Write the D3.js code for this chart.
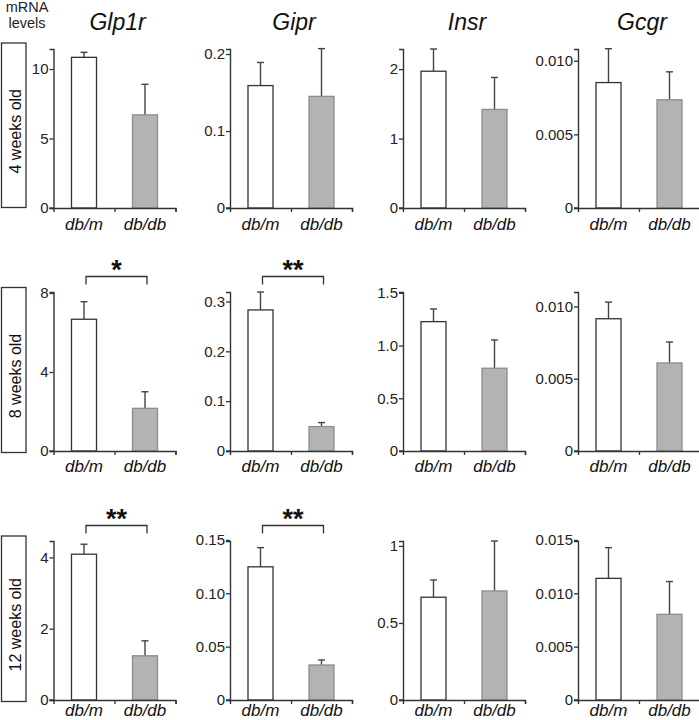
<!DOCTYPE html>
<html><head><meta charset="utf-8">
<script src="https://cdn.jsdelivr.net/npm/d3@7"></script>
<style>
html,body{margin:0;padding:0;background:#fff;}
svg{display:block;font-family:Arial,"Liberation Sans",sans-serif;}
</style></head>
<body><svg id="c" width="699" height="720"></svg>
<script>
// ---- data ----
const genes = ["Glp1r","Gipr","Insr","Gcgr"];
const ages = ["4 weeks old","8 weeks old","12 weeks old"];
const groups = ["db/m","db/db"];
// means [gene][group] per age
const means4w  = [[10.84,6.70],[0.159,0.145],[1.97,1.42],[0.00852,0.00735]];
const means8w  = [[6.67,2.16],[0.283,0.049],[1.227,0.785],[0.00915,0.00609]];
const means12w = [[4.09,1.24],[0.1248,0.0328],[0.667,0.708],[0.0114,0.00803]];
// SEM [gene][group] per age
const sem4w  = [[0.36,2.20],[0.030,0.062],[0.32,0.46],[0.0023,0.0019]];
const sem8w  = [[0.89,0.84],[0.036,0.008],[0.12,0.268],[0.00115,0.00145]];
const sem12w = [[0.28,0.42],[0.018,0.0047],[0.112,0.324],[0.00288,0.00307]];
// axis maxima [gene] per age
const axisMax = [[11.44,0.2065,2.29,0.0108],[8.05,0.319,1.508,0.011],[4.46,0.149,1.032,0.0149]];
// tick values and labels [age][gene]
const tickVals = [
  [[0,5,10],[0,0.1,0.2],[0,1,2],[0,0.005,0.010]],
  [[0,4,8],[0,0.1,0.2,0.3],[0,0.5,1.0,1.5],[0,0.005,0.010]],
  [[0,2,4],[0,0.05,0.10,0.15],[0,0.5,1],[0,0.005,0.010,0.015]]
];
const tickLabels = [
  [["0","5","10"],["0","0.1","0.2"],["0","1","2"],["0","0.005","0.010"]],
  [["0","4","8"],["0","0.1","0.2","0.3"],["0","0.5","1.0","1.5"],["0","0.005","0.010"]],
  [["0","2","4"],["0","0.05","0.10","0.15"],["0","0.5","1"],["0","0.005","0.010","0.015"]]
];
const sigRows = [1,1,2,2];
const sigCols = [0,1,0,1];
const sigMarks = ["*","**","**","**"];

const means = [means4w, means8w, means12w];
const sems = [sem4w, sem8w, sem12w];

// ---- layout ----
const colX = [53.5, 230, 403, 578];
const panelW = 122;
const rowBottom = [208, 451, 700];
const rowTop = [49, 292, 541];
const labelOffset = [22, 21, 15.5];
const boxTop = [43, 287.5, 536];
const boxBot = [207.5, 452.5, 701.5];
const axisColor = "#333";
const svg = d3.select("#c");

// header
svg.append("text").attr("x",27).attr("y",12).attr("text-anchor","middle")
  .attr("font-size",14.5).attr("fill","#222").text("mRNA");
svg.append("text").attr("x",27).attr("y",28).attr("text-anchor","middle")
  .attr("font-size",14.5).attr("fill","#222").text("levels");

genes.forEach((g,c)=>{
  svg.append("text").attr("x",colX[c]+panelW/2+3).attr("y",30).attr("text-anchor","middle")
    .attr("font-size",23).attr("font-style","italic").attr("fill","#111").text(g);
});

const scales = {};
ages.forEach((age,r)=>{
  svg.append("rect").attr("x",1.5).attr("y",boxTop[r]).attr("width",24.5)
    .attr("height",boxBot[r]-boxTop[r]).attr("fill","#fff").attr("stroke","#333").attr("stroke-width",1.3);
  const cy = (boxTop[r]+boxBot[r])/2 + 6;
  svg.append("text").attr("transform",`translate(20.5,${cy}) rotate(-90)`)
    .attr("text-anchor","middle").attr("font-size",16).attr("fill","#111").text(age);

  genes.forEach((g,c)=>{
    const x0 = colX[c];
    const x = d3.scaleBand().domain(groups).range([x0, x0+panelW]).paddingInner(0.59).paddingOuter(0.295);
    const y = d3.scaleLinear().domain([0, axisMax[r][c]]).range([rowBottom[r], rowTop[r]]);
    scales[r+"_"+c] = {x,y};
    const gp = svg.append("g");

    groups.forEach((grp,i)=>{
      const m = means[r][c][i], s = sems[r][c][i];
      const cx = x(grp)+x.bandwidth()/2;
      gp.append("line").attr("x1",cx).attr("x2",cx).attr("y1",y(m)).attr("y2",y(m+s))
        .attr("stroke","#444").attr("stroke-width",1.4);
      gp.append("line").attr("x1",cx-3.5).attr("x2",cx+3.5).attr("y1",y(m+s)).attr("y2",y(m+s))
        .attr("stroke","#444").attr("stroke-width",1.4);
      gp.append("rect").attr("x",x(grp)).attr("width",x.bandwidth())
        .attr("y",y(m)).attr("height",y(0)-y(m))
        .attr("fill", i===0 ? "#fff" : "#b3b3b5")
        .attr("stroke", i===0 ? "#333" : "#8d8d8f").attr("stroke-width",1.3);
      gp.append("text").attr("x",cx).attr("y",rowBottom[r]+labelOffset[r]).attr("text-anchor","middle")
        .attr("font-size",17).attr("font-style","italic").attr("fill","#111").text(grp);
    });

    const ya = d3.axisLeft(y).tickValues(tickVals[r][c])
      .tickFormat((d,i)=>tickLabels[r][c][i]).tickSizeOuter(0).tickSize(4).tickPadding(1);
    const yg = gp.append("g").attr("transform",`translate(${x0},0)`).call(ya);
    yg.select(".domain").attr("stroke",axisColor).attr("stroke-width",1.4);
    yg.selectAll(".tick line").attr("stroke",axisColor).attr("stroke-width",1.3);
    yg.selectAll(".tick text").attr("font-size",15).attr("fill","#222")
      .attr("font-family","Arial, 'Liberation Sans', sans-serif");

    const xb = d3.scaleLinear().domain([0,groups.length]).range([x0, x0+panelW]);
    const xa = d3.axisBottom(xb).tickValues([1,2]).tickFormat("").tickSizeOuter(0).tickSize(4);
    const xg = gp.append("g").attr("transform",`translate(0,${rowBottom[r]})`).call(xa);
    xg.select(".domain").attr("stroke",axisColor).attr("stroke-width",1.4);
    xg.selectAll(".tick line").attr("stroke",axisColor).attr("stroke-width",1.3);
    gp.append("line").attr("x1",x0-4).attr("x2",x0).attr("y1",rowBottom[r]).attr("y2",rowBottom[r])
      .attr("stroke",axisColor).attr("stroke-width",1.3);
  });
});

// significance brackets
sigMarks.forEach((mk,k)=>{
  const r = sigRows[k], c = sigCols[k];
  const {x} = scales[r+"_"+c];
  const xa = x(groups[0])+x.bandwidth()/2+2, xb2 = x(groups[1])+x.bandwidth()/2+2;
  const by = rowTop[r] - 15.5;
  svg.append("path").attr("d",`M${xa},${by+8}V${by}H${xb2}V${by+8}`)
    .attr("fill","none").attr("stroke","#333").attr("stroke-width",1.3);
  svg.append("text").attr("x",(xa+xb2)/2).attr("y",by+2.5).attr("text-anchor","middle")
    .attr("font-size",27).attr("font-weight","bold").attr("fill","#111").text(mk);
});
</script></body></html>
